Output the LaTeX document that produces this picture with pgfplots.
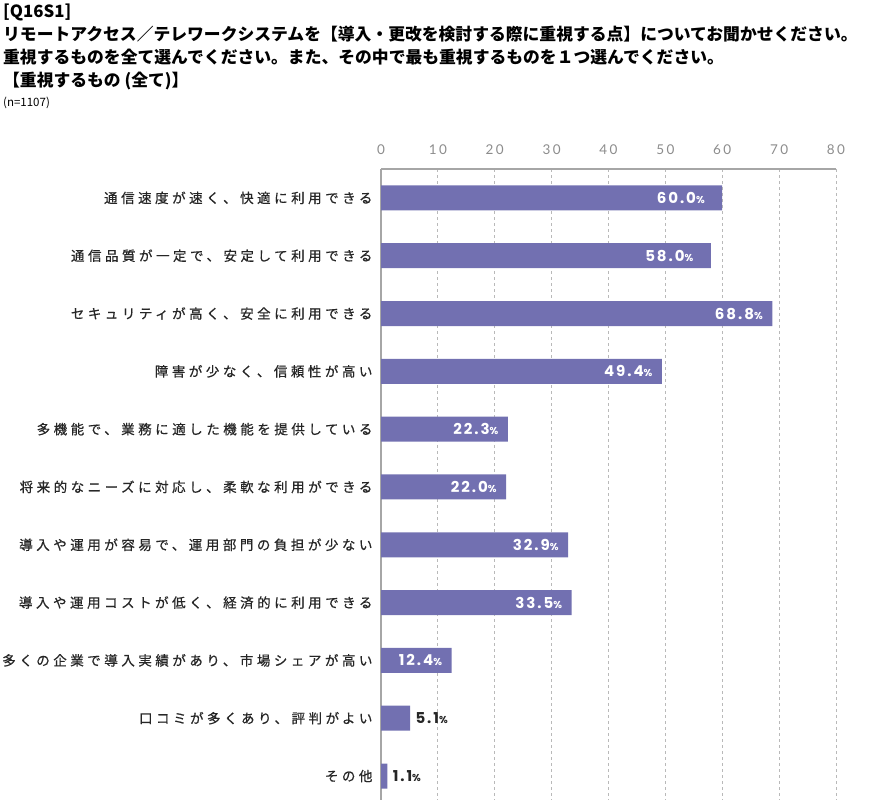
\documentclass[border=0pt]{standalone}
\usepackage{fontspec}
\usepackage{pgfplots}
\pgfplotsset{compat=1.18}
\setmainfont{Noto Sans CJK JP}
\newfontfamily\cjk{Noto Sans CJK JP}
\newfontfamily\cjklab[LetterSpace=26,FakeBold=0.6]{Noto Sans CJK JP}
\newfontfamily\valfont[LetterSpace=13]{Poppins}
\newfontfamily\tickfont[LetterSpace=18]{Lato}
\definecolor{barc}{HTML}{7270B1}
\definecolor{tickc}{HTML}{8C8C8C}
\begin{document}
\begin{tikzpicture}
\path[use as bounding box] (0pt,0pt) rectangle (886pt,-806pt);
\node[anchor=base west, inner sep=0pt] at (3pt,-17pt) {\cjk\bfseries\fontsize{16.8}{20}\selectfont [Q16S1]};
\node[anchor=base west, inner sep=0pt] at (3pt,-40.5pt) {\cjk\bfseries\fontsize{16.8}{20}\selectfont リモートアクセス／テレワークシステムを【導入・更改を検討する際に重視する点】についてお聞かせください。};
\node[anchor=base west, inner sep=0pt] at (3pt,-63.5pt) {\cjk\bfseries\fontsize{16.8}{20}\selectfont 重視するものを全て選んでください。また、その中で最も重視するものを１つ選んでください。};
\node[anchor=base west, inner sep=0pt] at (3pt,-86.5pt) {\cjk\bfseries\fontsize{16.8}{20}\selectfont 【重視するもの (全て)】};
\node[anchor=base west, inner sep=0pt] at (3pt,-106pt) {\cjk\fontsize{11.5}{13}\selectfont (n=1107)};
\begin{axis}[
  at={(381pt,-169pt)}, anchor=north west,
  scale only axis, width=455pt, height=631pt,
  xmin=0, xmax=80, ymin=-0.5, ymax=10.415, y dir=reverse,
  axis x line*=top, axis y line*=left,
  xtick={0,10,...,80}, ytick={0,...,10},
  yticklabels={通信速度が速く、快適に利用できる,通信品質が一定で、安定して利用できる,セキュリティが高く、安全に利用できる,障害が少なく、信頼性が高い,多機能で、業務に適した機能を提供している,将来的なニーズに対応し、柔軟な利用ができる,導入や運用が容易で、運用部門の負担が少ない,導入や運用コストが低く、経済的に利用できる,多くの企業で導入実績があり、市場シェアが高い,口コミが多くあり、評判がよい,その他},
  major tick length=0pt,
  xmajorgrids, grid style={dashed, gray!55, line width=0.8pt},
  axis line style={gray!70, line width=1.2pt},
  /pgf/number format/assume math mode=true,
  xticklabel style={font=\tickfont\fontsize{13.5}{13.5}\selectfont, text=tickc, yshift=11pt},
  yticklabel style={font=\cjklab\fontsize{13.5}{14}\selectfont, text=black!85, anchor=east, xshift=-5pt},
  clip=false,
  valnode/.style={nodes near coords={\pgfmathprintnumber[fixed,fixed zerofill,precision=1]{\pgfplotspointmeta}{\fontsize{10}{10}\selectfont\%}}},
]
\addplot[xbar, fill=barc, draw=none, bar width=25pt] coordinates {
(60.0,0) (58.0,1) (68.8,2) (49.4,3) (22.3,4) (22.0,5) (32.9,6) (33.5,7) (12.4,8) (5.1,9) (1.1,10)};
\addplot[draw=none, point meta=x, valnode,
  every node near coord/.append style={anchor=east, xshift=-14pt, text=white, font=\valfont\bfseries\fontsize{15}{15}\selectfont}]
coordinates {(60.0,0) (58.0,1)};
\addplot[draw=none, point meta=x, valnode,
  every node near coord/.append style={anchor=east, xshift=-6pt, text=white, font=\valfont\bfseries\fontsize{15}{15}\selectfont}]
coordinates {(68.8,2) (49.4,3) (22.3,4) (22.0,5) (32.9,6) (33.5,7) (12.4,8)};
\addplot[draw=none, point meta=x, valnode,
  every node near coord/.append style={anchor=west, xshift=2pt, text=black!85, font=\valfont\bfseries\fontsize{15}{15}\selectfont}]
coordinates {(5.1,9) (1.1,10)};
\end{axis}
\end{tikzpicture}
\end{document}
